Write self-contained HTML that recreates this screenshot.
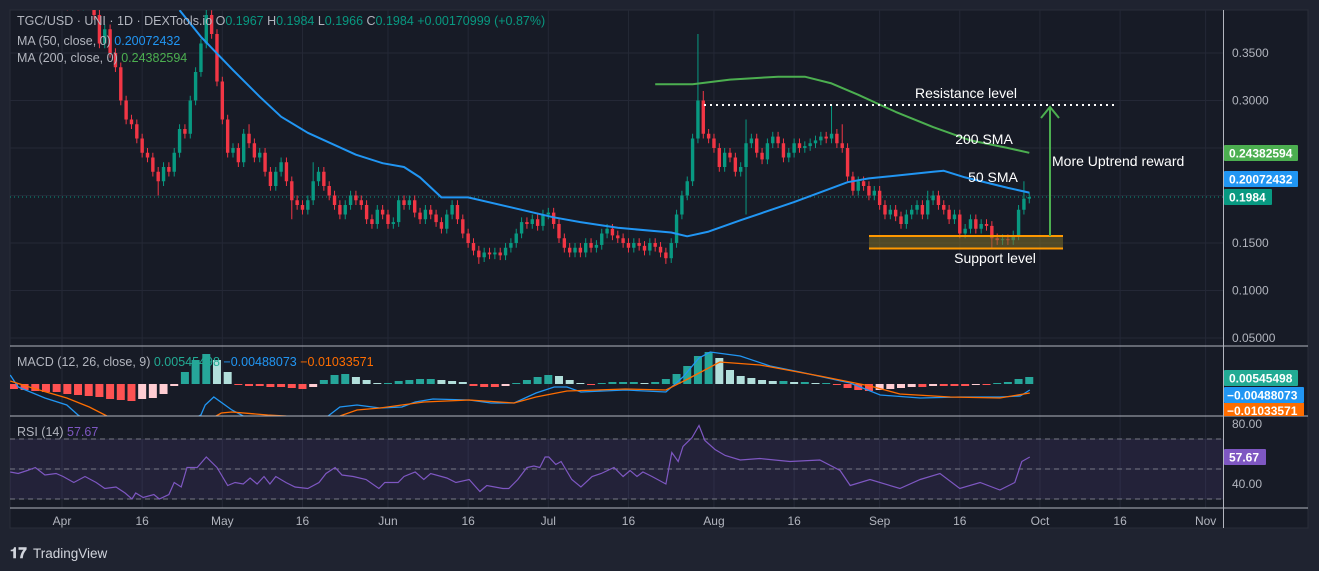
<!DOCTYPE html>
<html><head><meta charset="utf-8">
<style>
html,body{margin:0;padding:0;background:#1f2330;width:1319px;height:571px;overflow:hidden}
svg{display:block;font-family:"Liberation Sans",sans-serif}
</style></head>
<body>
<svg id="chart" width="1319" height="571" viewBox="0 0 1319 571" xmlns="http://www.w3.org/2000/svg">
<defs>
<clipPath id="cMain"><rect x="10" y="10" width="1213" height="336"/></clipPath>
<clipPath id="cMacd"><rect x="10" y="347" width="1213" height="69"/></clipPath>
<clipPath id="cRsi"><rect x="10" y="417" width="1213" height="91"/></clipPath>
</defs>
<rect x="0" y="0" width="1319" height="571" fill="#1f2330"/>
<rect x="10" y="10" width="1298" height="518" fill="#171b26" stroke="#2a2e39"/>
<g id="grid"></g>
<g id="main" clip-path="url(#cMain)"></g>
<g id="macd" clip-path="url(#cMacd)"></g>
<g id="rsi" clip-path="url(#cRsi)"></g>
<g id="axes"></g>

<line x1="10" y1="346" x2="1308" y2="346" stroke="#b2b5be"/>
<line x1="10" y1="416" x2="1308" y2="416" stroke="#b2b5be"/>
<line x1="10" y1="508" x2="1308" y2="508" stroke="#b2b5be"/>
<line x1="1223.5" y1="10" x2="1223.5" y2="528" stroke="#b2b5be"/>

<g font-size="12.5" fill="#b2b5be">
<text x="17" y="25">TGC/USD · UNI · 1D · DEXTools.io  <tspan>O</tspan><tspan fill="#089981">0.1967</tspan>  <tspan>H</tspan><tspan fill="#089981">0.1984</tspan>  <tspan>L</tspan><tspan fill="#089981">0.1966</tspan>  <tspan>C</tspan><tspan fill="#089981">0.1984  +0.00170999 (+0.87%)</tspan></text>
<text x="17" y="45">MA (50, close, 0) <tspan fill="#2196f3">0.20072432</tspan></text>
<text x="17" y="62">MA (200, close, 0) <tspan fill="#4caf50">0.24382594</tspan></text>
</g>
<text x="17" y="366" font-size="12.5" fill="#b2b5be">MACD (12, 26, close, 9) <tspan fill="#22ab94">0.00545498</tspan> <tspan fill="#2196f3">−0.00488073</tspan> <tspan fill="#ff6d00">−0.01033571</tspan></text>
<text x="17" y="436" font-size="12.5" fill="#b2b5be">RSI (14) <tspan fill="#7e57c2">57.67</tspan></text>

<g fill="#ffffff" font-size="14">
<line x1="704" y1="105" x2="1115" y2="105" stroke="#ffffff" stroke-width="2" stroke-dasharray="2,4"/>
<text x="966" y="98" text-anchor="middle">Resistance level</text>
<text x="984" y="144" text-anchor="middle">200 SMA</text>
<text x="993" y="182" text-anchor="middle">50 SMA</text>
<text x="1052" y="166">More Uptrend reward</text>
<rect x="869" y="236" width="194" height="12" fill="rgba(128,112,40,0.55)"/>
<line x1="869" y1="236" x2="1063" y2="236" stroke="#ff9800" stroke-width="2"/>
<line x1="869" y1="248.5" x2="1063" y2="248.5" stroke="#ff9800" stroke-width="2"/>
<text x="995" y="263" text-anchor="middle">Support level</text>
<g stroke="#4caf50" stroke-width="2" fill="none">
<line x1="1050" y1="236" x2="1050" y2="107"/><polyline points="1041,118 1050,107 1059,118"/></g>
</g>

<g font-size="12" font-weight="bold" fill="#ffffff">
<rect x="1224" y="145" width="74" height="16" rx="1" fill="#4caf50"/><text x="1229" y="157.5">0.24382594</text>
<rect x="1224" y="171" width="74" height="16" rx="1" fill="#2196f3"/><text x="1229" y="183.5">0.20072432</text>
<rect x="1224" y="189" width="48" height="16" rx="1" fill="#089981"/><text x="1229" y="201.5">0.1984</text>
<rect x="1224" y="370" width="74" height="16" rx="1" fill="#22ab94"/><text x="1229" y="382.5">0.00545498</text>
<rect x="1224" y="387" width="80" height="16" rx="1" fill="#2196f3"/><text x="1227" y="399.5">−0.00488073</text>
<rect x="1224" y="403" width="80" height="13" fill="#ff6d00"/><text x="1227" y="415">−0.01033571</text>
<rect x="1224" y="449" width="42" height="16" rx="1" fill="#7e57c2"/><text x="1229" y="461.5">57.67</text>
</g>

<g>
<text x="10" y="558" font-size="15" font-weight="bold" fill="#d1d4dc">𝟏𝟕</text>
<text x="33" y="558" font-size="13.5" fill="#d1d4dc">TradingView</text>
</g>
</svg>
<script>
// ---- data ----
const closes = [0.43,0.44,0.42,0.45,0.43,0.44,0.42,0.43,0.42,
0.41,0.40,0.41,0.40,0.42,0.41,0.39,0.36,0.375,0.35,0.335,0.30,0.28,0.275,0.26,0.245,0.24,0.225,0.215,0.23,0.225,0.245,0.27,0.265,0.30,0.33,0.36,0.39,0.37,0.32,0.28,
0.245,0.25,0.235,0.265,0.255,0.24,0.245,0.225,0.21,0.225,0.235,0.215,0.195,0.19,0.185,0.195,0.215,0.225,0.21,0.20,0.19,0.18,0.19,0.20,0.195,0.19,0.175,0.17,0.185,0.18,
0.17,0.172,0.195,0.19,0.195,0.182,0.175,0.185,0.18,0.172,0.165,0.18,0.19,0.175,0.16,0.15,0.142,0.135,0.14,0.138,0.14,0.137,0.145,0.15,0.16,0.172,0.17,0.175,0.168,0.18,
0.182,0.17,0.155,0.145,0.14,0.145,0.14,0.15,0.145,0.148,0.16,0.165,0.158,0.155,0.15,0.145,0.15,0.147,0.142,0.15,0.146,0.14,0.134,0.15,0.18,0.20,0.215,0.26,0.30,0.265,
0.26,0.25,0.23,0.245,0.24,0.225,0.23,0.255,0.26,0.245,0.238,0.255,0.262,0.255,0.24,0.245,0.255,0.25,0.252,0.255,0.258,0.262,0.26,0.265,0.255,0.25,0.22,0.205,0.215,0.21,
0.20,0.205,0.19,0.18,0.185,0.178,0.17,0.18,0.185,0.19,0.18,0.195,0.20,0.19,0.185,0.175,0.18,0.16,0.165,0.175,0.165,0.17,0.168,0.155,0.153,0.154,0.153,0.158,0.185,0.1967,0.1984];
const highSpikes = {16:0.41,36:0.41,44:0.275,56:0.235,128:0.37,129:0.31,137:0.28,153:0.295,155:0.275,171:0.205,189:0.215};
const lowSpikes = {27:0.2,52:0.175,87:0.128,122:0.128,137:0.18,183:0.145};
const ma50Days = [22,26,32,37,41,46,55,60,64,67,71,76,86,92,97,104,114,117,121,127,137,147,151,163,165,169,177,181];
const ma50Vals = [0.395,0.367,0.332,0.304,0.283,0.266,0.243,0.234,0.230,0.219,0.198,0.198,0.185,0.177,0.172,0.166,0.161,0.157,0.162,0.174,0.193,0.214,0.218,0.225,0.226,0.219,0.208,0.203];
const ma200Days = [111,118,125,134,139,144,149,156,163,170,177,181];
const ma200Vals = [0.317,0.317,0.322,0.325,0.325,0.318,0.306,0.288,0.272,0.258,0.250,0.245];
const macdDays = [-9.7,-8.2,-3.2,0.9,3,10.9,20.2,26,26.8,28.4,31.8,33.9,40.8,49.8,52,55.2,59.5,63.6,66.1,69.4,76.2,80.3,84.6,88.7,92.1,94.5,97.1,105.4,113,116.2,119.2,121.3,126.9,132.5,138.1,147.5,153.1,160.6,168,175.5,179.3,181.1];
const macdVals = [4.5,-1.5,-7,-10.5,-15.5,-28,-23,-15.5,-10.5,-6.5,-13,-16,-22,-16,-11.5,-10.5,-12,-11.5,-9,-7.5,-8,-9.5,-9.5,-4.5,-1.5,-1.5,-4,-3,-4,3.5,13,16,14,9,6,0.5,-5.5,-7,-6.5,-6.5,-6,-3];
const signalDays = [-9.7,-4.9,0.9,5.1,8.4,16.5,25.8,29.8,31.8,38.5,41.9,46.4,52,55.2,59.5,67.7,76.2,84.6,88.7,94.5,105.4,113,117.1,123.1,130.6,141.8,151.2,156.8,166.2,175.5,181.1];
const signalVals = [1.5,-2.5,-7,-11.5,-16,-23,-20.5,-14.5,-14,-15.5,-16,-19,-16,-13,-12,-9,-8,-9.5,-6.5,-3.5,-2.5,-3,2.5,11,9.5,4,-1,-5,-6.5,-7,-4.5];
const histVals = [-2.5,-3,-3.5,-4,-4,-5,-5.5,-6,-6.5,-7.5,-8,-8.5,-7.5,-7,-5,-1,6,12,15,12,6,-0.5,-1,-1,-1.5,-1.5,-2,-2.5,-1.5,2,4.5,5,3.5,2,0.5,0.5,1.5,2,2.5,2.5,2,1.5,1,-1,-1.5,-1.5,-1,0.5,2,3.5,4.5,4,2,0.5,-0.5,0.5,1,1,1,0.5,1,2.5,5,9,14,16,13,7,4,3,2,1.5,1.5,1,1,0.5,0.5,-0.5,-2,-3,-3.5,-3,-2.5,-2,-1.5,-1.5,-1,-1,-1,-1,-0.5,-0.5,0.5,1,2.5,3.5];
const rsiDays = [-9.7,-8.2,-6.5,-5,-3.2,-1.1,0.2,2.2,4.3,6.4,8,10.1,11.8,13.1,13.8,15.2,17.2,18.2,20,21,22.3,23.4,25.3,27,29,31,32.4,33.9,35.2,36.5,37.8,38.9,40,41.9,43.6,46,48.1,49.4,51.1,52.4,54.5,56.9,59.3,60.4,62.9,64,66.1,67.7,69,72,73.7,76.2,78.2,79.5,82.5,83.6,85.3,87,88.3,89.4,90.4,91.1,92.4,93.4,95.4,97.1,99.2,100.9,103.3,105,106.3,107.6,108.7,110.4,113,114.1,115.3,116.2,117.9,119.2,120.3,122.2,124.1,126.9,130.6,136.2,141.8,145.6,147.5,151.2,156.8,160.6,164.3,168,171.8,175.5,178.3,179.6,181.1];
const rsiVals = [48,47,49,51,46,47,45,41,45,41,37,38,34,30,34,31,33,30,33,41,38,51,51,58,51,39,41,40,44,40,45,40,45,41,38,37,41,47,51,46,45,43,37,41,41,45,48,43,47,44,41,43,35,39,37,37,43,51,52,51,58,58,53,55,43,38,45,47,51,45,49,45,48,45,40,61,55,65,71,79,69,63,59,56,57,55,56,49,39,43,37,43,47,37,41,36,41,55,58];
const priceTicks = [0.35,0.30,0.25,0.20,0.15,0.10,0.05];
const priceTickLabels = ["0.3500","0.3000","","","0.1500","0.1000","0.05000"];
const rsiTicks = [80,40];
const rsiTickLabels = ["80.00","40.00"];
const timeTickDays = [0,15,30,45,61,76,91,106,122,137,153,168,183,198,214];
const timeTickLabels = ["Apr","16","May","16","Jun","16","Jul","16","Aug","16","Sep","16","Oct","16","Nov"];

// ---- scales ----
const NS="http://www.w3.org/2000/svg";
const xDay = d => 62 + d*5.344;
const yP = v => 243 - (v-0.15)*950;
const yM = v => 384 - v*2;
const yR = v => 484 - (v-40)*1.5;
function mk(tag, attrs, parent){const e=document.createElementNS(NS,tag);for(const k in attrs)e.setAttribute(k,attrs[k]);parent.appendChild(e);return e;}
const grid=document.getElementById('grid'), main=document.getElementById('main'), macd=document.getElementById('macd'), rsi=document.getElementById('rsi'), axes=document.getElementById('axes');

// grid
timeTickDays.forEach((d,i)=>{
  const l=mk('line',{x1:xDay(d),x2:xDay(d),y1:10,y2:508,stroke:'#242836'},grid);
  
  
  const t=mk('text',{x:xDay(d),y:525,'text-anchor':'middle','font-size':12,fill:'#b2b5be'},axes);
  t.textContent=timeTickLabels[i];
  
  
});
priceTicks.forEach((v,i)=>{
  const l=mk('line',{x1:10,x2:1223,y1:yP(v),y2:yP(v),stroke:'#242836'},grid);
  
  
  if(priceTickLabels[i]){
    const t=mk('text',{x:1232,y:yP(v)+4,'font-size':12,fill:'#b2b5be'},axes);
    t.textContent=priceTickLabels[i];
    
    
  }
});
[70,50,30].forEach(v=>{
  const l=mk('line',{x1:10,x2:1223,y1:yR(v),y2:yR(v),stroke:'#242836'},grid);
  
  
});
rsiTicks.forEach((v,i)=>{
  const t=mk('text',{x:1232,y:yR(v)+4,'font-size':12,fill:'#b2b5be'},axes);
  t.textContent=rsiTickLabels[i];
  
  
});

// last price dotted line
const lp=mk('line',{x1:10,x2:1223,y1:yP(closes[closes.length-1]),y2:yP(closes[closes.length-1]),stroke:'#089981','stroke-dasharray':'1,3'},main);



// candles
closes.forEach((c,i)=>{
  const o = i>0 ? closes[i-1] : c;
  const x = xDay(i-9);
  const up = c>=o;
  const col = up ? '#089981' : '#f23645';
  const hi = highSpikes[i]!==undefined ? highSpikes[i] : Math.max(o,c)+0.005;
  const lo = lowSpikes[i]!==undefined ? lowSpikes[i] : Math.min(o,c)-0.005;
  const g=mk('g',{},main);
  
  
  mk('line',{x1:x,x2:x,y1:yP(hi),y2:yP(lo),stroke:col,'stroke-width':1},g);
  const top=yP(Math.max(o,c)), bot=yP(Math.min(o,c));
  mk('rect',{x:x-1.7,y:top,width:3.4,height:Math.max(1,bot-top),fill:col},g);
});

function linePath(days, vals, xf, yf){return days.map((d,i)=>(i?'L':'M')+xf(d).toFixed(1)+','+yf(vals[i]).toFixed(1)).join(' ');}
const m50=mk('path',{d:linePath(ma50Days,ma50Vals,xDay,yP),fill:'none',stroke:'#2196f3','stroke-width':2,'stroke-linejoin':'round'},main);


const m200=mk('path',{d:linePath(ma200Days,ma200Vals,xDay,yP),fill:'none',stroke:'#4caf50','stroke-width':2,'stroke-linejoin':'round'},main);



// MACD histogram
histVals.forEach((v,k)=>{
  const prev = k>0 ? histVals[k-1] : v;
  let col;
  if(v>=0) col = v>=prev ? '#26a69a' : '#b2dfdb';
  else col = v<=prev ? '#ff5252' : '#ffcdd2';
  const x = xDay(2*k-9);
  const y0=yM(0), y1=yM(v);
  const r=mk('rect',{x:x-4,y:Math.min(y0,y1),width:8,height:Math.max(1,Math.abs(y1-y0)),fill:col},macd);
  
  
});
const ml=mk('path',{d:linePath(macdDays,macdVals,xDay,yM),fill:'none',stroke:'#2196f3','stroke-width':1.3},macd);


const sl=mk('path',{d:linePath(signalDays,signalVals,xDay,yM),fill:'none',stroke:'#ff6d00','stroke-width':1.3},macd);



// RSI
const band=mk('rect',{x:10,y:yR(70),width:1213,height:yR(30)-yR(70),fill:'rgba(126,87,194,0.12)'},rsi);


[70,50,30].forEach(v=>{
  const l=mk('line',{x1:10,x2:1223,y1:yR(v),y2:yR(v),stroke:'#787b86','stroke-dasharray':'5,4'},rsi);
  
  
});
const rl=mk('path',{d:linePath(rsiDays,rsiVals,xDay,yR),fill:'none',stroke:'#7e57c2','stroke-width':1.2},rsi);


</script>
</body></html>
